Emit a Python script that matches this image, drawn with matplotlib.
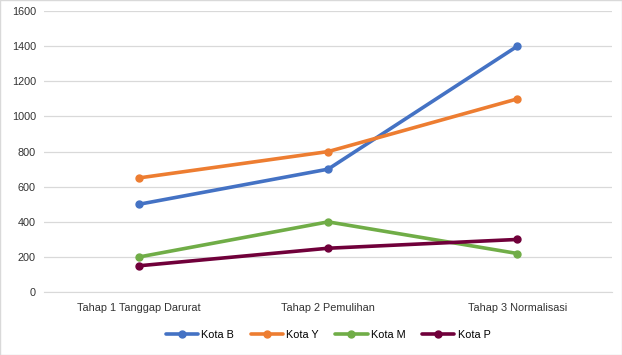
import numpy as np
import matplotlib.pyplot as plt

categories = ["Tahap 1 Tanggap Darurat", "Tahap 2 Pemulihan", "Tahap 3 Normalisasi"]
kota_b = [500, 700, 1400]
kota_y = [650, 800, 1100]
kota_m = [200, 400, 220]
kota_p = [150, 250, 300]

series = [("Kota B", kota_b, "#4472C4"),
          ("Kota Y", kota_y, "#ED7D31"),
          ("Kota M", kota_m, "#70AD47"),
          ("Kota P", kota_p, "#70003A")]

plt.rcParams['font.family'] = ['Liberation Sans', 'DejaVu Sans']

fig = plt.figure(figsize=(6.22, 3.55), dpi=100)
ax = fig.add_axes([0.071, 0.177, 0.913, 0.792])

x = np.arange(len(categories))
for name, vals, col in series:
    ax.plot(x, vals, color=col, lw=2.6, marker="o", ms=5, label=name,
            solid_capstyle="round")

ax.set_xlim(-0.5, len(categories) - 0.5)
ax.set_ylim(0, 1600)
ax.set_yticks(np.arange(0, 1601, 200))
ax.set_xticks(x)
ax.set_xticklabels(categories)
ax.grid(axis="y", color="#D9D9D9", lw=0.9)
ax.set_axisbelow(True)
for s in ["top", "right", "left"]:
    ax.spines[s].set_visible(False)
ax.spines["bottom"].set_color("#D9D9D9")
ax.tick_params(length=0, labelsize=7.8, colors="#333333", pad=6)
ax.tick_params(axis="x", pad=8)

ax.legend(loc="upper center", bbox_to_anchor=(0.5, -0.1), ncol=4, frameon=False,
          fontsize=7.8, handlelength=3, columnspacing=1.5, handletextpad=0.3)

fig.patches.append(plt.Rectangle((0, 0), 1, 1, transform=fig.transFigure,
                                 fill=False, edgecolor="#D9D9D9", lw=1))
fig.savefig("out.png", dpi=100)
